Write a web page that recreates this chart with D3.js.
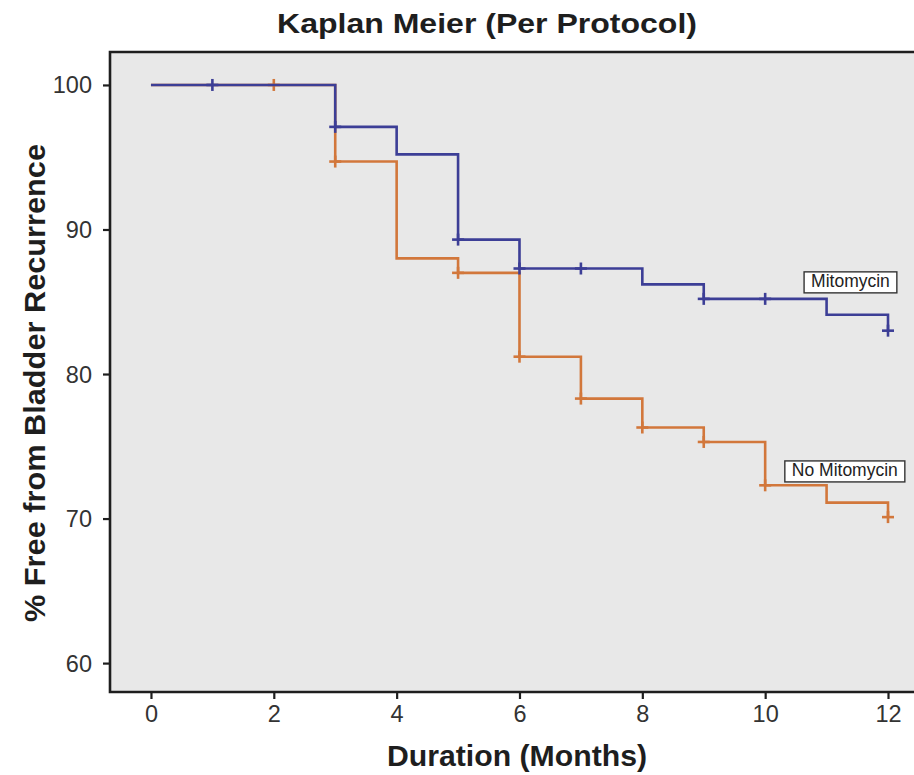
<!DOCTYPE html>
<html><head><meta charset="utf-8">
<script src="https://cdn.jsdelivr.net/npm/d3@7"></script>
<style>body{margin:0;background:#fff;} text{font-family:"Liberation Sans",Arial,sans-serif;}</style>
</head><body>
<svg id="chart" width="914" height="775"></svg>
<script>
const title = "Kaplan Meier (Per Protocol)";
const xLabel = "Duration (Months)";
const yLabel = "% Free from Bladder Recurrence";
const xTicks = [0, 2, 4, 6, 8, 10, 12];
const yTicks = [60, 70, 80, 90, 100];
// step series: month at which value starts
const mitoTimes  = [0, 3, 4, 5, 6, 8, 9, 11, 12];
const mitoValues = [100, 97.1, 95.2, 89.3, 87.3, 86.2, 85.2, 84.1, 83.0];
const mitoCensorTimes = [1, 3, 5, 6, 7, 9, 10, 12];
const noMitoTimes  = [0, 3, 4, 5, 6, 7, 8, 9, 10, 11, 12];
const noMitoValues = [100, 94.7, 88.0, 87.0, 81.2, 78.3, 76.3, 75.3, 72.3, 71.1, 70.1];
const noMitoCensorTimes = [2, 3, 5, 6, 7, 8, 9, 10, 12];
const seriesNames = ["Mitomycin", "No Mitomycin"];

const svg = d3.select("#chart");
const x = d3.scaleLinear().domain([-0.667, 12.7]).range([110, 931]);
const y = d3.scaleLinear().domain([58, 102.28]).range([692, 52]);

svg.append("rect").attr("x", x(-0.667)).attr("y", y(102.28))
  .attr("width", x(12.7) - x(-0.667)).attr("height", y(58) - y(102.28))
  .attr("fill", "#e8e8e8");

function stepAt(times, values, t) {
  let v = values[0];
  for (let i = 0; i < times.length; i++) if (times[i] <= t) v = values[i];
  return v;
}
const series = [
  {name: seriesNames[1], times: noMitoTimes, values: noMitoValues, censor: noMitoCensorTimes, color: "#d2773b"},
  {name: seriesNames[0], times: mitoTimes, values: mitoValues, censor: mitoCensorTimes, color: "#3c3e96"}
];
const line = d3.line().x(d => x(d[0])).y(d => y(d[1])).curve(d3.curveStepAfter);
series.forEach(s => {
  const pts = s.times.map((t, i) => [t, s.values[i]]);
  svg.append("path").datum(pts).attr("d", line).attr("fill", "none")
    .attr("stroke", s.color).attr("stroke-width", 2.6);
  const g = svg.append("g");
  s.censor.forEach(t => {
    const cx = x(t), cy = y(stepAt(s.times, s.values, t));
    g.append("line").attr("x1", cx).attr("x2", cx).attr("y1", cy - 6).attr("y2", cy + 6)
      .attr("stroke", s.color).attr("stroke-width", 2.6);
    g.append("line").attr("x1", cx - 6).attr("x2", cx + 6).attr("y1", cy).attr("y2", cy)
      .attr("stroke", s.color).attr("stroke-width", 2.6);
  });
});

// frame
svg.append("path")
  .attr("d", `M${x(12.7)},${y(102.28)} H${x(-0.667)} V${y(58)} H${x(12.7)}`)
  .attr("fill", "none").attr("stroke", "#1e1e1e").attr("stroke-width", 2.6);

// axes
const xAxis = svg.append("g").attr("transform", `translate(0,${y(58)})`)
  .call(d3.axisBottom(x).tickValues(xTicks).tickSize(7).tickPadding(6));
const yAxis = svg.append("g").attr("transform", `translate(${x(-0.667)},0)`)
  .call(d3.axisLeft(y).tickValues(yTicks).tickSize(7).tickPadding(11));
[xAxis, yAxis].forEach(a => {
  a.select(".domain").remove();
  a.selectAll(".tick line").attr("stroke", "#1e1e1e").attr("stroke-width", 2.2);
  a.selectAll(".tick text").attr("font-size", 23.5).attr("fill", "#333")
    .attr("font-family", '"Liberation Sans",Arial,sans-serif');
});
yAxis.selectAll(".tick text").attr("dy", "0.34em");

// series labels
const labels = [
  {text: seriesNames[0], t: 12.03, v: 86.03},
  {text: seriesNames[1], t: 12.16, v: 72.95}
];
labels.forEach(l => {
  const tx = svg.append("text").attr("x", x(l.t)).attr("y", y(l.v))
    .attr("text-anchor", "end").attr("font-size", 17.5).attr("fill", "#222").text(l.text);
  const bb = tx.node().getBBox();
  svg.insert("rect", () => tx.node()).attr("x", bb.x - 7).attr("y", bb.y + 1)
    .attr("width", bb.width + 14).attr("height", bb.height + 1)
    .attr("fill", "#fff").attr("stroke", "#333").attr("stroke-width", 1.4);
});

// titles
svg.append("text").attr("x", 487).attr("y", 33).attr("text-anchor", "middle")
  .attr("font-size", 28).attr("font-weight", "bold").attr("fill", "#1e1e1e")
  .attr("textLength", 420).attr("lengthAdjust", "spacingAndGlyphs").text(title);
svg.append("text").attr("x", 517).attr("y", 766).attr("text-anchor", "middle")
  .attr("font-size", 30).attr("font-weight", "bold").attr("fill", "#1e1e1e")
  .attr("textLength", 260).attr("lengthAdjust", "spacingAndGlyphs").text(xLabel);
svg.append("text").attr("transform", "translate(45,383) rotate(-90)").attr("text-anchor", "middle")
  .attr("font-size", 30).attr("font-weight", "bold").attr("fill", "#1e1e1e")
  .attr("textLength", 478).attr("lengthAdjust", "spacingAndGlyphs").text(yLabel);
</script>
</body></html>
